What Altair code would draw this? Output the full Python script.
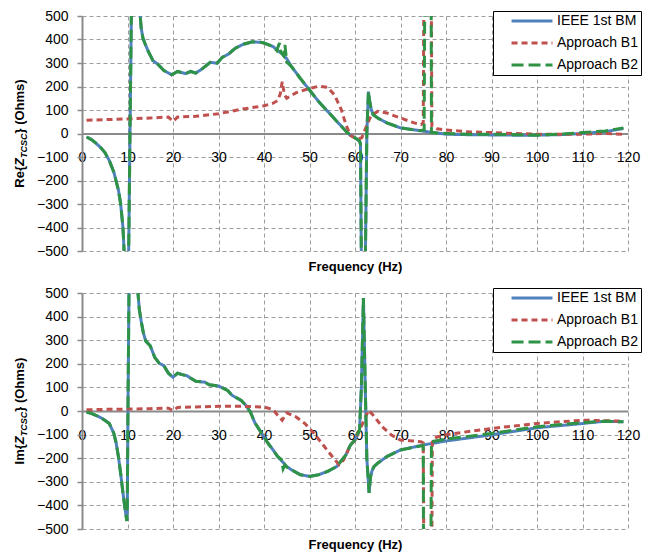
import altair as alt
import pandas as pd

SERIES = ["IEEE 1st BM", "Approach B1", "Approach B2"]
COLORS = ["#4F81BD", "#C0504D", "#2F9345"]
DASHES = [[1, 0], [6, 4], [12, 5]]
X_TICKS = list(range(0, 121, 10))
Y_TICKS = list(range(-500, 501, 100))

# ---------- Re{Z_TCSC} ----------
re_bm_f = [1, 2, 3, 4, 5, 6, 7, 8, 8.5, 9, 9.3, 9.5, 10.2, 10.9, 11.2, 12.5, 12.8, 13.0, 13.4, 13.8,
           14.5, 15.6, 16.6, 18, 19.7, 21, 22.8, 23.9, 25, 26.4, 28.2, 29.7, 30.8, 32.2, 33.7, 35.5,
           37.4, 39.2, 40, 42, 43, 44, 45, 46, 48, 50, 52, 55, 58, 59, 60, 61, 61.2, 61.5, 62.2, 62.3,
           62.6, 62.95, 63.2, 63.6, 64, 65, 67, 70, 75, 80, 85, 90, 95, 100, 105, 110, 115, 119]
re_bm_v = [-15, -25, -40, -58, -80, -115, -165, -240, -300, -400, -520, -800, -600, 600, 900, 900, 500, 450, 405, 385,
           352, 310, 296, 268, 250, 264, 255, 264, 257, 275, 303, 299, 324, 338, 363, 380,
           390, 388, 385, 370, 353, 339, 318, 286, 234, 185, 136, 73, 10, -8, -18, -32, -45, -800, -800, -500,
           0, 178, 140, 100, 80, 66, 45, 24, 10, -3, -5, -6, -7, -7, -5, 0, 8, 21]

re_b1_f = [1, 5, 10, 15, 19, 20, 21, 25, 30, 35, 40, 42, 43, 43.6, 44, 44.5, 45, 47, 50, 52, 54, 55.5, 57, 58,
           59, 60.5, 61.5, 62.5, 63.5, 65, 67, 70, 73, 74.5, 75.0, 75.2, 76.7, 76.9, 78, 80, 85, 90, 95,
           100, 110, 115, 119]
re_b1_v = [56, 59, 62, 66, 70, 52, 70, 73, 84, 103, 118, 129, 140, 170, 220, 165, 150, 173, 192, 201, 196, 164, 101, 38,
           -8, -25, -18, 31, 75, 94, 87, 66, 45, 38, 45, 900, 900, 30, 20, 15, 7, 4, 0,
           -3, -3, 0, -4]

re_b2_f = [1, 2, 3, 4, 5, 6, 7, 8, 8.5, 9, 9.3, 9.5, 10.2, 10.9, 11.2, 12.5, 12.8, 13.0, 13.4, 13.8,
           14.5, 15.6, 16.6, 18, 19.7, 21, 22.8, 23.9, 25, 26.4, 28.2, 29.7, 30.8, 32.2, 33.7, 35.5,
           37.4, 39.2, 40, 42, 42.8, 43.4, 43.7, 44.3, 44.6, 45.0, 46, 48, 50, 52, 55, 58, 59, 60, 61,
           61.2, 61.5, 62.2, 62.3, 62.6, 62.95, 63.2, 63.6, 64, 65, 67, 70, 74, 75.2, 75.4, 76.7, 76.8,
           78, 80, 85, 90, 95, 100, 105, 110, 115, 119]
re_b2_v = [-15, -25, -40, -58, -80, -115, -165, -240, -300, -400, -520, -800, -600, 600, 900, 900, 500, 450, 405, 385,
           352, 310, 296, 268, 250, 264, 255, 264, 257, 275, 303, 299, 324, 338, 363, 380,
           390, 388, 385, 370, 353, 385, 346, 331, 377, 304, 286, 234, 185, 136, 73, 10, -8, -18, -32,
           -45, -800, -800, -500, 0, 178, 140, 100, 80, 66, 45, 24, 12, 15, 900, 900, 5,
           2, 0, -3, -3, -5, -7, -3, 4, 11, 24]

# ---------- Im{Z_TCSC} ----------
im_bm_f = [1, 2, 3, 4, 5, 6, 7, 7.5, 8, 8.5, 9, 9.5, 9.85, 9.95, 10.1, 10.35, 10.6, 12.0, 12.3, 12.6,
           13, 13.5, 14, 15, 16, 17, 18, 19, 20, 21, 22, 23, 25, 27, 28, 30, 31, 32, 33, 35, 36, 37,
           38, 39, 40, 41, 42, 43, 44, 45, 46, 48, 50, 52, 54, 56, 58, 59, 60, 61, 61.4, 61.85, 62.2,
           62.6, 63.1, 63.4, 63.8, 64.2, 65, 67, 70, 75, 80, 90, 100, 110, 115, 119]
im_bm_v = [-4, -10, -18, -27, -39, -53, -95, -135, -193, -265, -347, -420, -466, -420, 0, 560, 900, 900, 500, 430,
           381, 330, 297, 276, 227, 202, 192, 160, 143, 160, 154, 150, 126, 122, 111, 106, 97, 87, 66, 45, 24, -4,
           -50, -80, -110, -140, -165, -193, -214, -235, -249, -270, -277, -270, -256, -235, -186, -144, -123, -81,
           100, 479, 150, -200, -347, -280, -250, -235, -221, -193, -165, -144, -127, -101, -71, -53, -43, -46]

im_b1_f = [1, 5, 10, 15, 19, 20, 21, 25, 30, 35, 40, 42, 43, 44, 45, 47, 49, 51, 53, 55, 56.5, 57.5, 59, 60,
           61, 62, 63, 64, 66, 68, 70, 72, 74.5, 75.0, 75.2, 76.8, 77.0, 78, 80, 90, 100, 110, 119]
im_b1_v = [5, 7, 8, 10, 12, 2, 15, 17, 20, 20, 17, 6, -18, -39, -8, -25, -53, -95, -144, -193, -228, -207, -144, -123,
           -81, -39, 3, -18, -67, -102, -123, -126, -130, -135, -900, -900, -125, -110, -100, -74, -53, -39, -43]

im_b2_f = [1, 2, 3, 4, 5, 6, 7, 7.5, 8, 8.5, 9, 9.5, 9.85, 9.95, 10.1, 10.35, 10.6, 12.0, 12.3, 12.6,
           13, 13.5, 14, 15, 16, 17, 18, 19, 20, 21, 22, 23, 25, 27, 28, 30, 31, 32, 33, 35, 36, 37,
           38, 39, 40, 41, 42, 43, 43.8, 44.2, 44.6, 45, 46, 48, 50, 52, 54, 56, 58, 59, 60, 61, 61.4,
           61.85, 62.2, 62.6, 63.1, 63.4, 63.8, 64.2, 65, 67, 70, 75, 75.1, 76.6, 76.8, 80, 90, 100,
           110, 115, 119]
im_b2_v = [-4, -10, -18, -27, -39, -53, -95, -135, -193, -265, -347, -420, -466, -420, 0, 560, 900, 900, 500, 430,
           381, 330, 297, 276, 227, 202, 192, 160, 143, 160, 154, 150, 126, 122, 111, 106, 97, 87, 66, 45, 24, -4,
           -50, -80, -110, -140, -165, -193, -205, -245, -228, -238, -249, -270, -277, -270, -256, -235, -186, -144, -123, -81, 100,
           479, 150, -200, -347, -280, -250, -235, -221, -193, -165, -146, -900, -900, -130, -119, -95, -67,
           -49, -43, -46]

FONT = "Liberation Sans"
W = 546
GRID = "#9c9c9c"
AXIS = "#8a8a8a"

# Arial Bold advance widths (em) for the title pieces
EM = {"R": .722, "e": .556, "{": .389, "Z": .611, "I": .278, "m": .889, "T": .611, "C": .722,
      "S": .667, "}": .389, " ": .278, "(": .333, "O": .778, "h": .611, "s": .556, ")": .333}


def text_w(s, size):
    return sum(EM.get(c, .6) for c in s) * size


def ytitle_layers(prefix, H):
    parts = [(prefix, 13, "normal", 0), ("Z", 13, "italic", 0), ("TCSC", 9, "italic", 2.5),
             ("} (Ohms)", 13, "normal", 0)]
    total = sum(text_w(p, s) for p, s, _, _ in parts)
    cur = H / 2 + total / 2
    out = []
    for p, s, style, dx in parts:
        out.append(
            alt.Chart(pd.DataFrame({"t": [p]})).mark_text(
                angle=270, align="left", baseline="alphabetic", font=FONT, fontSize=s,
                fontWeight="bold", fontStyle=style, color="black"
            ).encode(text="t:N", x=alt.value(-58 + dx), y=alt.value(cur))
        )
        cur -= text_w(p, s)
    return out


def panel(data, prefix, H):
    xs = alt.Scale(domain=[0, 120], nice=False, zero=False)
    ys = alt.Scale(domain=[-500, 500], nice=False, zero=False)
    xaxis = alt.Axis(values=X_TICKS, grid=True, gridDash=[4, 3], gridColor=GRID, gridWidth=1,
                     ticks=False, domainColor=AXIS, domainWidth=2, offset=-H / 2,
                     labelPadding=17, labelFontSize=14, labelFont=FONT, labelColor="black",
                     labelFlush=False, labelOverlap=False,
                     title="Frequency (Hz)", titleFont=FONT, titleFontSize=13, titleFontWeight="bold",
                     titleColor="black", titleBaseline="middle", titleY=H / 2 + 15, zindex=0)
    yaxis = alt.Axis(values=Y_TICKS, grid=True, gridDash=[4, 3], gridColor=GRID, gridWidth=1,
                     ticks=True, tickSize=5, tickColor=AXIS, tickWidth=1.5,
                     domainColor=AXIS, domainWidth=2, labelPadding=9, labelFontSize=14,
                     labelFont=FONT, labelColor="black", labelFlush=False, zindex=0)
    legend = alt.Legend(orient="none", legendX=411, legendY=-5, title=None, direction="vertical",
                        strokeColor="black", fillColor="white", padding=3,
                        symbolType="M-5,0L5,0", symbolSize=67, symbolStrokeWidth=3,
                        labelFont=FONT, labelFontSize=14, labelColor="black",
                        labelExpr="datum.label + '\u00a0\u00a0\u00a0\u00a0\u00a0'",
                        rowPadding=8, symbolOffset=29, labelOffset=18)
    layers = []
    for name, (f, v) in zip(SERIES, data):
        df = pd.DataFrame({"f": f, "v": v, "s": name})
        layers.append(
            alt.Chart(df).mark_line(clip=True, strokeWidth=3).encode(
                x=alt.X("f:Q", scale=xs, axis=xaxis),
                y=alt.Y("v:Q", scale=ys, axis=yaxis, title=None),
                color=alt.Color("s:N", scale=alt.Scale(domain=SERIES, range=COLORS), legend=legend),
                strokeDash=alt.StrokeDash("s:N", scale=alt.Scale(domain=SERIES, range=DASHES),
                                          legend=legend),
            )
        )
    layers += ytitle_layers(prefix, H)
    return alt.layer(*layers).properties(width=W, height=H)


top = panel([(re_bm_f, re_bm_v), (re_b1_f, re_b1_v), (re_b2_f, re_b2_v)], "Re{", 235)
bottom = panel([(im_bm_f, im_bm_v), (im_b1_f, im_b1_v), (im_b2_f, im_b2_v)], "Im{", 236)

chart = (
    alt.vconcat(top, bottom, spacing=11)
    .resolve_scale(color="independent", strokeDash="independent")
    .properties(padding={"left": 5, "top": 0, "right": 5, "bottom": 0}, background="white")
    .configure_view(stroke="transparent")
)

chart.save("out.html", embed_options={"renderer": "svg", "actions": False})
